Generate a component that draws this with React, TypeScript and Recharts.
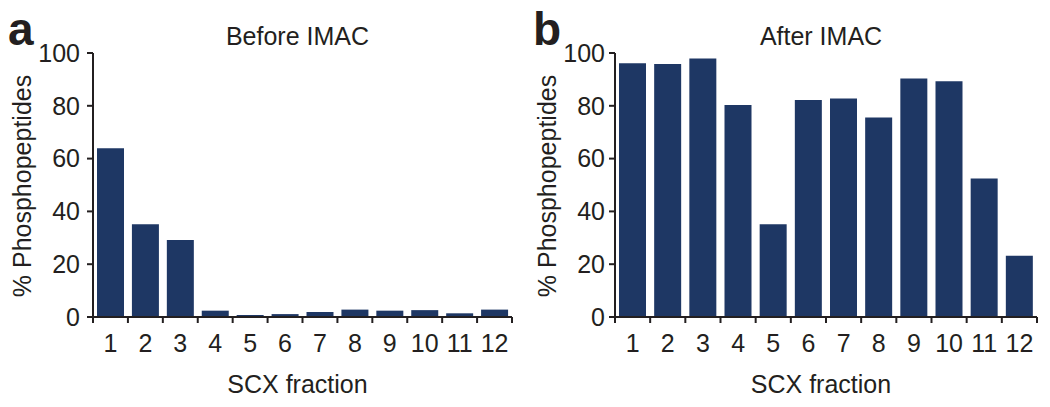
import React from 'react';
import { BarChart, Bar, XAxis, YAxis } from 'recharts';

const fractions = [1, 2, 3, 4, 5, 6, 7, 8, 9, 10, 11, 12];
const beforeImac = [63.9, 35.1, 29.2, 2.4, 0.8, 1.1, 1.9, 2.8, 2.4, 2.6, 1.4, 2.8];
const afterImac = [96.1, 95.8, 97.9, 80.3, 35.1, 82.2, 82.8, 75.6, 90.3, 89.3, 52.5, 23.2];
const yTicks = [0, 20, 40, 60, 80, 100];
const panelTitles = ['Before IMAC', 'After IMAC'];
const panelLetters = ['a', 'b'];

const INK = '#231f20';
const BAR = '#1e3764';
const FONT = '"Liberation Sans", Arial, Helvetica, sans-serif';

// tick marks sit between fractions, labels sit under each bar
const xTicks = [...fractions.map((f) => f - 0.5), fractions[fractions.length - 1] + 0.5];

interface PanelProps {
  values: number[];
  title: string;
  letter: string;
  plotLeft: number;
  tickGap: number;
  offsetX: number;
}

function Panel({ values, title, letter, plotLeft, tickGap, offsetX }: PanelProps) {
  const W = 525;
  const H = 407;
  const plotRight = 512;
  const plotTop = 53;
  const plotBottom = 317;
  const yAxisWidth = 60;
  const half = (plotRight - plotLeft) / fractions.length / 2;
  const data = fractions.map((f, i) => ({ fraction: f, value: values[i] }));

  const renderXTick = (props: any) => {
    const { x, payload } = props;
    const label = payload.value + 0.5;
    if (label > fractions[fractions.length - 1]) return <g />;
    return (
      <text x={x + half} y={352} textAnchor="middle" fontSize={25} fill={INK} fontFamily={FONT}>
        {label}
      </text>
    );
  };

  const labelCenterX = (plotLeft + plotRight) / 2 - 5;

  return (
    <div style={{ position: 'absolute', left: offsetX, top: 0, width: W, height: H }}>
      <BarChart
        width={W}
        height={H}
        data={data}
        margin={{ top: plotTop, right: W - plotRight, bottom: 0, left: plotLeft - yAxisWidth }}
      >
        <XAxis
          dataKey="fraction"
          type="number"
          domain={[0.5, 12.5]}
          ticks={xTicks}
          interval={0}
          height={H - plotBottom}
          axisLine={{ stroke: INK, strokeWidth: 2 }}
          tickLine={{ stroke: INK, strokeWidth: 2 }}
          tickSize={6}
          tick={renderXTick}
        />
        <YAxis
          domain={[0, 100]}
          ticks={yTicks}
          width={yAxisWidth}
          axisLine={{ stroke: INK, strokeWidth: 2 }}
          tickLine={{ stroke: INK, strokeWidth: 2 }}
          tickSize={6}
          tickMargin={tickGap}
          tick={{ fill: INK, fontSize: 25, fontFamily: FONT }}
        />
        <Bar dataKey="value" fill={BAR} barSize={27} isAnimationActive={false} />
      </BarChart>
      <svg width={W} height={H} style={{ position: 'absolute', left: 0, top: 0, pointerEvents: 'none' }}>
        <text x={8} y={45} fontSize={46} fontWeight="bold" fill={INK} fontFamily={FONT}>
          {letter}
        </text>
        <text x={labelCenterX} y={45} textAnchor="middle" fontSize={25} fill={INK} fontFamily={FONT}>
          {title}
        </text>
        <text x={labelCenterX} y={393} textAnchor="middle" fontSize={25} fill={INK} fontFamily={FONT}>
          SCX fraction
        </text>
        <text
          x={31}
          y={186}
          textAnchor="middle"
          fontSize={25}
          fill={INK}
          fontFamily={FONT}
          transform="rotate(-90 31 186)"
        >
          % Phosphopeptides
        </text>
      </svg>
    </div>
  );
}

export default function App() {
  return (
    <div style={{ position: 'absolute', left: 0, top: 0, width: 1050, height: 407, background: '#fff' }}>
      <Panel values={beforeImac} title={panelTitles[0]} letter={panelLetters[0]} plotLeft={93} tickGap={7} offsetX={0} />
      <Panel values={afterImac} title={panelTitles[1]} letter={panelLetters[1]} plotLeft={90} tickGap={4} offsetX={525} />
    </div>
  );
}
